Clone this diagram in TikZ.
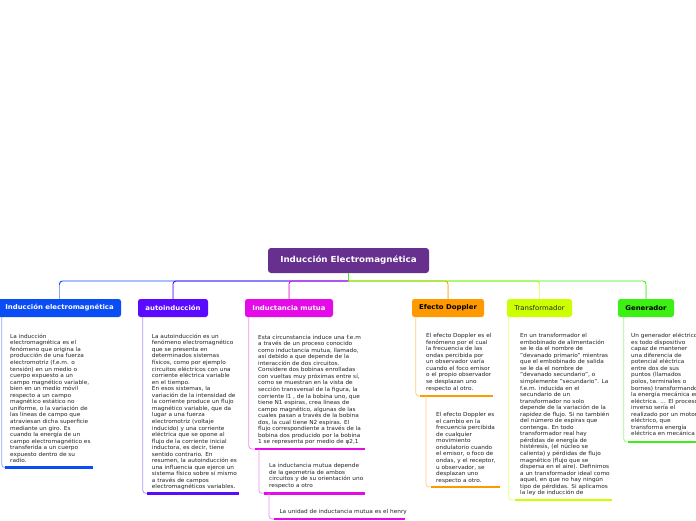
\documentclass[tikz,border=0pt]{standalone}
\usepackage{fontspec}
\setmainfont{DejaVu Sans}[FakeStretch=1.05]
\definecolor{cRoot}{HTML}{67308E}
\definecolor{cA}{HTML}{0B4DF5}\definecolor{cAl}{HTML}{8AA8F8}
\definecolor{cB}{HTML}{5A0BFF}\definecolor{cBl}{HTML}{B394FF}
\definecolor{cC}{HTML}{E40BE8}\definecolor{cCl}{HTML}{F08FF2}
\definecolor{cD}{HTML}{FF9900}\definecolor{cDl}{HTML}{FFCC80}
\definecolor{cE}{HTML}{CCFF00}\definecolor{cEl}{HTML}{E5FF80}
\definecolor{cF}{HTML}{3CF014}\definecolor{cFl}{HTML}{9CF785}
\definecolor{txt}{HTML}{222222}
\newcommand{\myst}{\rule{0pt}{4.4pt}}
\tikzset{
  rootbox/.style={fill=cRoot, rounded corners=3, text=white, font=\fontsize{8.3}{9}\selectfont\bfseries, minimum width=161, minimum height=25, inner sep=0},
  kid/.style={rounded corners=2.5, minimum height=18, inner sep=0, font=\fontsize{6.6}{7}\selectfont\bfseries},
  body/.style={anchor=north west, inner sep=0, align=left, text=txt, font=\fontsize{5.5}{6.55}\selectfont},
  stem/.style={line width=0.8, rounded corners=3},
  uline/.style={line width=2.8},
  wire/.style={line width=0.9, rounded corners=3},
}
\begin{document}
\begin{tikzpicture}[x=1pt,y=-1pt]
\fill[white] (0,0) rectangle (696,520);
\useasboundingbox (0,0) rectangle (696,520);

\node[rootbox] (root) at (348.5,260.5) {Inducción Electromagnética};
\node[kid, fill=cA, text=white, minimum width=123] (c1) at (59.5,308) {Inducción electromagnética};
\node[kid, fill=cB, text=white, minimum width=70] (c2) at (173,308) {autoinducción};
\node[kid, fill=cC, text=white, minimum width=88] (c3) at (289,308) {Inductancia mutua};
\node[kid, fill=cD, text=black, minimum width=72] (c4) at (448,308) {Efecto Doppler};
\node[kid, fill=cE, text=black!85, font=\fontsize{6.6}{7}\selectfont\mdseries, minimum width=65] (c5) at (539.5,308) {Transformador};
\node[kid, fill=cF, text=black, minimum width=56] (c6) at (646,308) {Generador};

\coordinate (hub) at (348.5,281);
\foreach \n/\c in {c1/cA, c2/cB, c3/cC, c4/cD, c5/cE, c6/cF}{
  \draw[wire, \c] (hub) -| (\n.north);
  \draw[line width=0.9, \c l] (\n.north) -- ++(0,-14);
}
\draw[line width=0.9, cF] (root.south) -- (hub);

% column 1
\node[body] (t1) at (10,333.7) {\myst La inducción\\electromagnética es el\\fenómeno que origina la\\producción de una fuerza\\electromotriz (f.e.m. o\\tensión) en un medio o\\cuerpo expuesto a un\\campo magnético variable,\\bien en un medio móvil\\respecto a un campo\\magnético estático no\\uniforme, o la variación de\\las líneas de campo que\\atraviesan dicha superficie\\mediante un giro. Es\\cuando la energía de un\\campo electromagnético es\\transferida a un cuerpo\\expuesto dentro de su\\radio.};
\coordinate (u1s) at (5,467.5); \coordinate (u1e) at (93,467.5);
\draw[stem, cAl] ([xshift=4pt]c1.south west) |- (u1s);
\draw[uline, cA] (u1s) -- (u1e);

% column 2
\node[body] (t2) at (151.7,333.7) {\myst La autoinducción es un\\fenómeno electromagnético\\que se presenta en\\determinados sistemas\\físicos, como por ejemplo\\circuitos eléctricos con una\\corriente eléctrica variable\\en el tiempo.\\En esos sistemas, la\\variación de la intensidad de\\la corriente produce un flujo\\magnético variable, que da\\lugar a una fuerza\\electromotriz (voltaje\\inducido) y una corriente\\eléctrica que se opone al\\flujo de la corriente inicial\\inductora, es decir, tiene\\sentido contrario. En\\resumen, la autoinducción es\\una influencia que ejerce un\\sistema físico sobre sí mismo\\a través de campos\\electromagnéticos variables.};
\coordinate (u2s) at (147,493.3); \coordinate (u2e) at (239,493.3);
\draw[stem, cBl] ([xshift=5pt]c2.south west) |- (u2s);
\draw[uline, cB] (u2s) -- (u2e);

% column 3
\node[body] (t3a) at (258,334.5) {\myst Esta circunstancia induce una f.e.m\\a través de un proceso conocido\\como inductancia mutua, llamado,\\así debido a que depende de la\\interacción de dos circuitos.\\Considere dos bobinas enrolladas\\con vueltas muy próximas entre sí,\\como se muestran en la vista de\\sección transversal de la figura, la\\corriente I1 , de la bobina uno, que\\tiene N1 espiras, crea líneas de\\campo magnético, algunas de las\\cuales pasan a través de la bobina\\dos, la cual tiene N2 espiras. El\\flujo correspondiente a través de la\\bobina dos producido por la bobina\\1 se representa por medio de φ2,1};
\coordinate (u3s) at (255,449); \coordinate (u3e) at (365,449);
\draw[stem, cCl] ([xshift=4pt]c3.south west) |- (u3s);
\draw[uline, cC] (u3s) -- (u3e);

\node[body] (t3b) at (269,463) {\myst La inductancia mutua depende\\de la geometría de ambos\\circuitos y de su orientación uno\\respecto a otro};
\coordinate (v3b) at (259,449);
\coordinate (u3bs) at (264,493.3); \coordinate (u3be) at (365,493.3);
\draw[stem, cCl] (v3b) |- (u3bs);
\draw[uline, cC] (u3bs) -- (u3be);

\node[body] (t3c) at (279.3,508.7) {\myst La unidad de inductancia mutua es el henry};
\coordinate (v3c) at (269,493.3);
\coordinate (u3cs) at (274,519); \coordinate (u3ce) at (405,519);
\draw[stem, cCl] (v3c) |- (u3cs);
\draw[uline, cC] (u3cs) -- (u3ce);

% column 4
\node[body] (t4a) at (426,333) {\myst El efecto Doppler es el\\fenómeno por el cual\\la frecuencia de las\\ondas percibida por\\un observador varía\\cuando el foco emisor\\o el propio observador\\se desplazan uno\\respecto al otro.};
\coordinate (u4s) at (420,396); \coordinate (u4e) at (493,396);
\draw[stem, cDl] ([xshift=4pt]c4.south west) |- (u4s);
\draw[uline, cD] (u4s) -- (u4e);

\node[body] (t4b) at (436,412) {\myst El efecto Doppler es\\el cambio en la\\frecuencia percibida\\de cualquier\\movimiento\\ondulatorio cuando\\el emisor, o foco de\\ondas, y el receptor,\\u observador, se\\desplazan uno\\respecto a otro.};
\coordinate (v4b) at (426,396);
\coordinate (u4bs) at (431,487); \coordinate (u4be) at (500,487);
\draw[stem, cDl] (v4b) |- (u4bs);
\draw[uline, cD] (u4bs) -- (u4be);

% column 5
\node[body] (t5) at (520,333) {\myst En un transformador el\\embobinado de alimentación\\se le da el nombre de\\"devanado primario" mientras\\que el embobinado de salida\\se le da el nombre de\\"devanado secundario", o\\simplemente "secundario". La\\f.e.m. inducida en el\\secundario de un\\transformador no solo\\depende de la variación de la\\rapidez de flujo. Si no también\\del número de espiras que\\contenga. En todo\\transformador real hay\\pérdidas de energía de\\histéresis, (el núcleo se\\calienta) y pérdidas de flujo\\magnético (flujo que se\\dispersa en el aire). Definimos\\a un transformador ideal como\\aquel, en que no hay ningún\\tipo de pérdidas. Si aplicamos\\la ley de inducción de};
\coordinate (u5s) at (515,500); \coordinate (u5e) at (612,500);
\draw[stem, cEl] ([xshift=2pt]c5.south west) |- (u5s);
\draw[uline, cE] (u5s) -- (u5e);

% column 6
\node[body] (t6) at (631,333) {\myst Un generador eléctrico\\es todo dispositivo\\capaz de mantener\\una diferencia de\\potencial eléctrica\\entre dos de sus\\puntos (llamados\\polos, terminales o\\bornes) transformando\\la energía mecánica en\\eléctrica. ... El proceso\\inverso sería el\\realizado por un motor\\eléctrico, que\\transforma energía\\eléctrica en mecánica};
\coordinate (u6s) at (628,442); \coordinate (u6e) at (700,442);
\draw[stem, cFl] ([xshift=6pt]c6.south west) |- (u6s);
\draw[uline, cF] (u6s) -- (u6e);
\end{tikzpicture}
\end{document}
